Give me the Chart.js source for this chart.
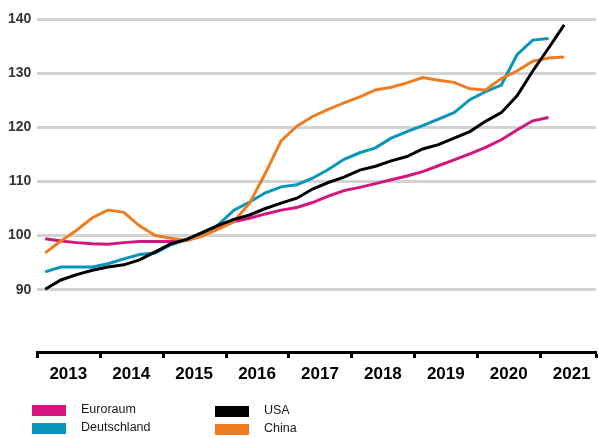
<!DOCTYPE html>
<html lang="de">
<head>
<meta charset="utf-8">
<script src="https://cdn.jsdelivr.net/npm/chart.js@4/dist/chart.umd.min.js"></script>
<style>
  html, body { margin: 0; padding: 0; background: #fff; }
  #wrap { width: 599px; height: 438px; position: relative; }
</style>
</head>
<body>
<div id="wrap"><canvas id="grafico"></canvas></div>
<script>
    // Quartale (Werte jeweils in der Mitte des Quartals)
    const quartale = [
      '2013 Q1','2013 Q2','2013 Q3','2013 Q4',
      '2014 Q1','2014 Q2','2014 Q3','2014 Q4',
      '2015 Q1','2015 Q2','2015 Q3','2015 Q4',
      '2016 Q1','2016 Q2','2016 Q3','2016 Q4',
      '2017 Q1','2017 Q2','2017 Q3','2017 Q4',
      '2018 Q1','2018 Q2','2018 Q3','2018 Q4',
      '2019 Q1','2019 Q2','2019 Q3','2019 Q4',
      '2020 Q1','2020 Q2','2020 Q3','2020 Q4',
      '2021 Q1','2021 Q2'
    ];

    const euroraum = [
      99.4, 99.0, 98.7, 98.5, 98.4, 98.7, 98.9, 98.9,
      98.9, 99.1, 100.2, 101.3, 102.6, 103.2, 104.0, 104.7,
      105.2, 106.1, 107.3, 108.3, 108.9, 109.6, 110.3, 111.0,
      111.8, 112.9, 114.0, 115.1, 116.3, 117.7, 119.5, 121.2,
      121.8
    ];
    const deutschland = [
      93.3, 94.2, 94.2, 94.2, 94.8, 95.7, 96.5, 96.8,
      98.3, 99.3, 100.1, 102.0, 104.7, 106.2, 107.9, 109.0,
      109.4, 110.6, 112.2, 114.1, 115.3, 116.2, 118.0, 119.2,
      120.3, 121.5, 122.7, 125.1, 126.6, 127.8, 133.4, 136.1,
      136.4
    ];
    const usa = [
      90.1, 91.8, 92.8, 93.6, 94.2, 94.6, 95.5, 97.0,
      98.5, 99.3, 100.6, 101.9, 103.0, 103.8, 105.0, 106.0,
      106.9, 108.6, 109.8, 110.8, 112.1, 112.8, 113.8, 114.6,
      116.0, 116.8, 118.0, 119.2, 121.1, 122.7, 125.8, 130.4,
      134.6, 138.9
    ];
    const china = [
      96.8, 99.0, 101.0, 103.3, 104.7, 104.3, 101.8, 100.0,
      99.5, 99.1, 99.9, 101.2, 102.6, 106.0, 111.5, 117.5,
      120.2, 122.0, 123.3, 124.5, 125.6, 126.9, 127.4, 128.2,
      129.2, 128.7, 128.3, 127.1, 126.9, 129.0, 130.4, 132.2,
      132.8, 133.0
    ];

    const jahre = [2013, 2014, 2015, 2016, 2017, 2018, 2019, 2020, 2021];
    const yTicks = [90, 100, 110, 120, 130, 140];

    function xPos(q) {
      const teile = q.split(' Q');
      return parseInt(teile[0]) + (parseInt(teile[1]) - 0.5) / 4;
    }
    function punkte(werte) {
      return werte.map((v, i) => ({ x: xPos(quartale[i]), y: v }));
    }

    /* ------------------ LEGENDE ------------------ */
    const legendePlugin = {
      id: 'legende',
      afterDraw(chart) {
        const ctx = chart.ctx;
        const plaetze = [[32, 405], [32, 423], [215, 406], [215, 424]];
        ctx.save();
        ctx.font = '12.5px "Liberation Sans", Arial, sans-serif';
        ctx.textBaseline = 'middle';
        chart.data.datasets.forEach((ds, i) => {
          const [x, y] = plaetze[i];
          ctx.fillStyle = ds.borderColor;
          ctx.fillRect(x, y, 34, 11);
          ctx.fillStyle = '#1a1a1a';
          ctx.fillText(ds.label, x + 49, y + 5);
        });
        ctx.restore();
      }
    };

    const ctx = document.getElementById('grafico').getContext('2d');
    const grafico = new Chart(ctx, {
      type: 'line',
      data: {
        datasets: [
          { label: 'Euroraum', data: punkte(euroraum), borderColor: '#d4157f', order: 3 },
          { label: 'Deutschland', data: punkte(deutschland), borderColor: '#0796ba', order: 2 },
          { label: 'USA', data: punkte(usa), borderColor: '#000000', order: 0 },
          { label: 'China', data: punkte(china), borderColor: '#ee7d22', order: 1 }
        ]
      },
      options: {
        responsive: true,
        maintainAspectRatio: false,
        animation: false,
        devicePixelRatio: 1,
        layout: { padding: { top: 19, left: 2, right: 3, bottom: 0 } },
        elements: {
          line: { borderWidth: 3, tension: 0, fill: false, borderCapStyle: 'butt' },
          point: { radius: 0, hoverRadius: 0 }
        },
        plugins: {
          legend: { display: false },
          tooltip: { enabled: false }
        },
        scales: {
          x: {
            type: 'linear',
            min: 2013,
            max: 2021.88,
            afterBuildTicks: axis => {
              axis.ticks = jahre.map(v => ({ value: v })).concat([{ value: axis.max }]);
            },
            afterFit: axis => {
              axis.height = 86;
              axis.paddingLeft = 0;
              axis.paddingRight = 0;
            },
            ticks: {
              autoSkip: false,
              maxRotation: 0,
              labelOffset: 31,
              padding: 6,
              color: '#000',
              font: { family: '"Liberation Sans", Arial, sans-serif', size: 17, weight: 'bold' },
              callback: v => jahre.includes(v) ? String(v) : ''
            },
            grid: {
              drawOnChartArea: false,
              drawTicks: true,
              tickLength: 6,
              tickWidth: 3,
              tickColor: '#000'
            },
            border: { display: true, color: '#000', width: 3 }
          },
          y: {
            min: 78.5,
            max: 140,
            afterBuildTicks: axis => {
              axis.ticks = yTicks.map(v => ({ value: v }));
            },
            afterFit: axis => {
              axis.width = 35.3;
              axis.paddingTop = 0;
              axis.paddingBottom = 0;
            },
            ticks: {
              padding: 6,
              color: '#333',
              font: { family: '"Liberation Sans", Arial, sans-serif', size: 14, weight: 'bold' }
            },
            grid: { color: '#d3d3d3', lineWidth: 3, drawTicks: false },
            border: { display: false }
          }
        }
      },
      plugins: [legendePlugin]
    });
</script>
</body>
</html>
